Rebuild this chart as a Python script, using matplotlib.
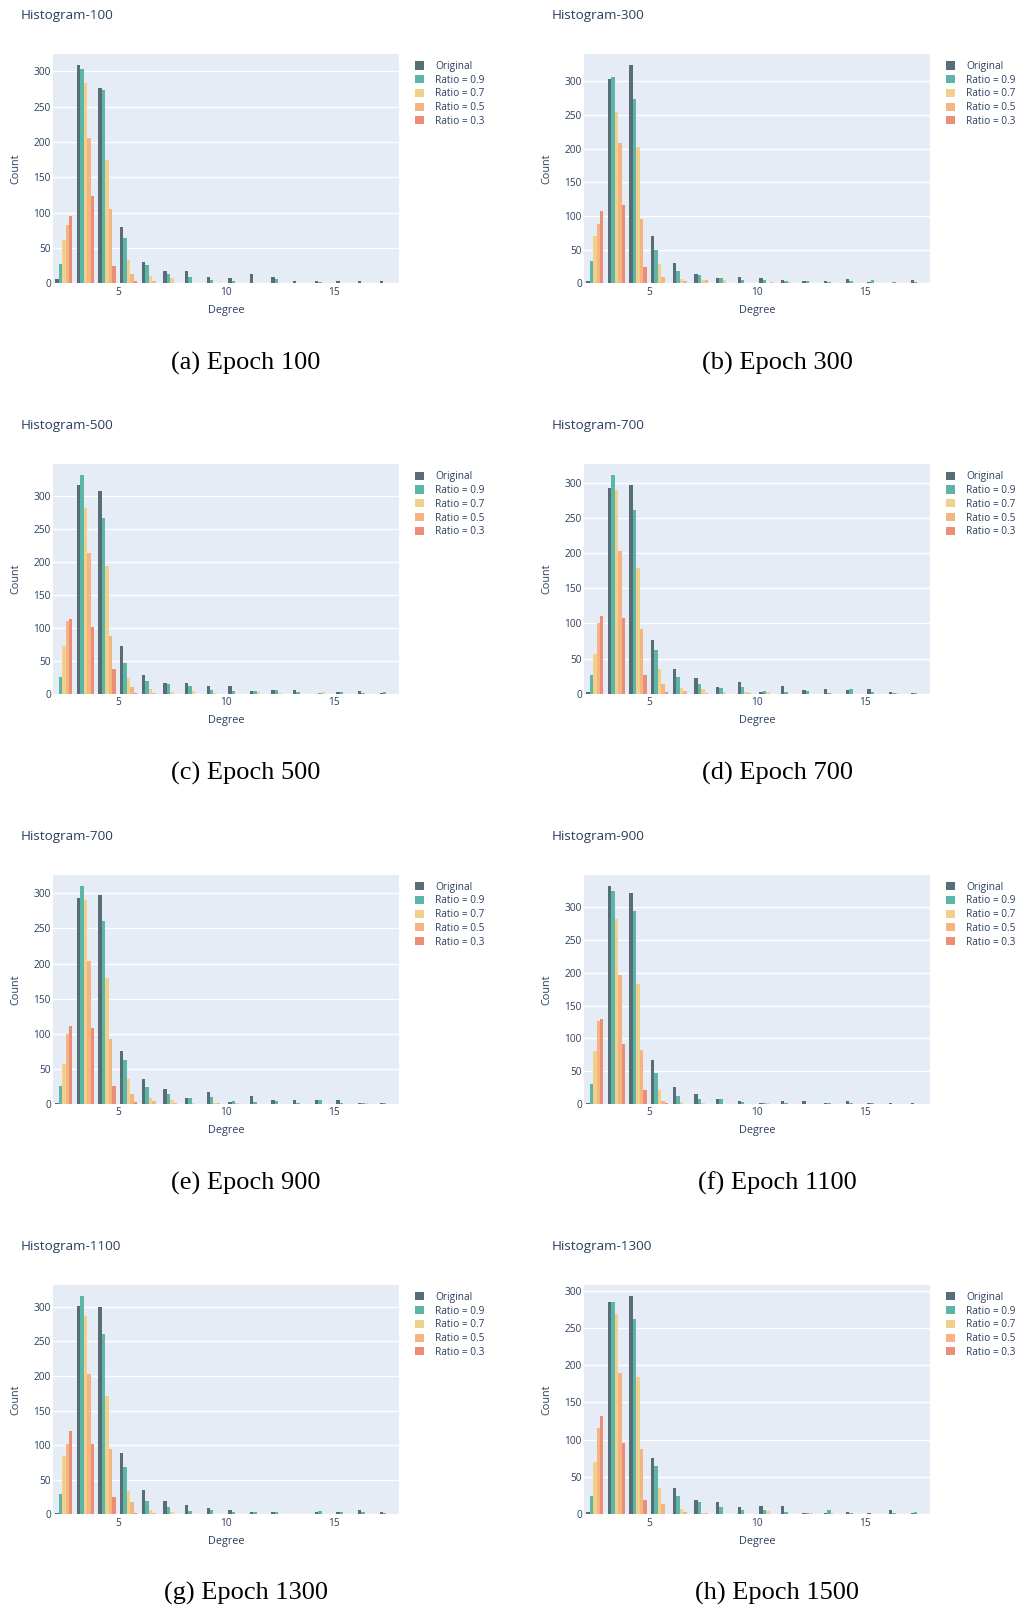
import numpy as np
import matplotlib
matplotlib.use('Agg')
import matplotlib.pyplot as plt
from matplotlib.patches import Patch

# ---------------- data ----------------
degrees = list(range(2, 18))  # left edges of unit-width degree bins
series_names = ['Original', 'Ratio = 0.9', 'Ratio = 0.7', 'Ratio = 0.5', 'Ratio = 0.3']
series_colors = ['#596d77', '#5bb6a8', '#efd18c', '#f5b482', '#ec8d75']

hist_100_orig = [6, 309, 277, 80, 30, 17, 17, 9, 8, 13, 9, 3, 3, 3, 3, 3]
hist_100_r09 = [27, 303, 273, 64, 26, 13, 9, 5, 3, 1, 6, 1, 2, 1, 0, 0]
hist_100_r07 = [61, 283, 175, 33, 10, 8, 0, 1, 1, 0, 0, 0, 0, 0, 0, 0]
hist_100_r05 = [82, 205, 105, 13, 3, 1, 0, 0, 0, 0, 0, 0, 0, 0, 0, 0]
hist_100_r03 = [96, 123, 24, 3, 0, 0, 0, 0, 0, 0, 0, 0, 0, 0, 0, 0]

hist_300_orig = [4, 303, 324, 70, 30, 14, 8, 10, 8, 5, 4, 3, 6, 2, 1, 5]
hist_300_r09 = [33, 306, 273, 50, 19, 12, 8, 5, 5, 3, 3, 2, 3, 5, 2, 2]
hist_300_r07 = [70, 254, 202, 29, 6, 5, 5, 1, 0, 2, 1, 1, 0, 1, 0, 0]
hist_300_r05 = [88, 208, 96, 9, 4, 5, 0, 0, 2, 1, 0, 1, 0, 0, 0, 0]
hist_300_r03 = [108, 116, 24, 0, 0, 0, 0, 0, 0, 0, 0, 0, 0, 0, 0, 0]

hist_500_orig = [0, 317, 308, 72, 28, 16, 17, 11, 11, 4, 5, 5, 0, 3, 4, 1]
hist_500_r09 = [26, 332, 267, 47, 19, 14, 11, 5, 4, 4, 5, 3, 1, 2, 1, 3]
hist_500_r07 = [72, 282, 194, 24, 7, 3, 4, 1, 0, 2, 1, 0, 2, 0, 0, 0]
hist_500_r05 = [110, 214, 88, 10, 1, 0, 0, 0, 0, 0, 0, 0, 0, 0, 0, 0]
hist_500_r03 = [114, 101, 37, 1, 0, 0, 0, 0, 0, 0, 0, 0, 0, 0, 0, 0]

hist_700_orig = [2, 293, 297, 76, 35, 22, 9, 17, 3, 11, 5, 6, 5, 6, 2, 1]
hist_700_r09 = [26, 311, 261, 62, 24, 14, 8, 10, 4, 3, 4, 1, 6, 2, 1, 1]
hist_700_r07 = [57, 290, 179, 35, 8, 6, 2, 2, 2, 0, 0, 0, 0, 0, 1, 0]
hist_700_r05 = [100, 203, 92, 14, 4, 1, 0, 1, 0, 0, 0, 0, 0, 0, 0, 0]
hist_700_r03 = [111, 108, 26, 3, 0, 0, 0, 0, 0, 0, 0, 0, 0, 0, 0, 0]

hist_900_orig = [1, 333, 322, 67, 26, 15, 8, 4, 2, 4, 5, 2, 4, 2, 1, 1]
hist_900_r09 = [31, 325, 294, 47, 12, 7, 7, 3, 2, 2, 0, 2, 1, 1, 0, 0]
hist_900_r07 = [81, 282, 183, 22, 3, 1, 0, 0, 1, 0, 0, 0, 0, 0, 0, 0]
hist_900_r05 = [126, 197, 82, 5, 0, 0, 0, 0, 0, 0, 0, 0, 0, 0, 0, 0]
hist_900_r03 = [130, 91, 22, 2, 0, 0, 0, 0, 0, 0, 0, 0, 0, 0, 0, 0]

hist_1100_orig = [2, 301, 300, 89, 35, 19, 14, 9, 6, 4, 3, 0, 3, 3, 6, 3]
hist_1100_r09 = [29, 316, 261, 69, 19, 11, 5, 6, 3, 3, 4, 1, 5, 3, 3, 2]
hist_1100_r07 = [84, 287, 171, 33, 6, 3, 1, 0, 1, 0, 0, 0, 0, 0, 0, 0]
hist_1100_r05 = [102, 203, 94, 18, 2, 1, 0, 0, 0, 0, 0, 0, 0, 0, 0, 0]
hist_1100_r03 = [121, 102, 25, 2, 0, 0, 0, 0, 0, 0, 0, 0, 0, 0, 0, 0]

hist_1300_orig = [3, 285, 293, 76, 35, 19, 17, 10, 11, 11, 2, 2, 3, 2, 6, 2]
hist_1300_r09 = [25, 285, 262, 65, 25, 17, 10, 6, 6, 3, 2, 6, 2, 1, 2, 3]
hist_1300_r07 = [70, 268, 184, 35, 7, 2, 1, 1, 4, 0, 2, 2, 0, 0, 0, 1]
hist_1300_r05 = [116, 189, 87, 14, 3, 2, 1, 0, 0, 0, 0, 0, 0, 0, 0, 0]
hist_1300_r03 = [132, 95, 19, 1, 0, 0, 0, 0, 0, 0, 0, 0, 0, 0, 0, 0]

hist_100 = [hist_100_orig, hist_100_r09, hist_100_r07, hist_100_r05, hist_100_r03]
hist_300 = [hist_300_orig, hist_300_r09, hist_300_r07, hist_300_r05, hist_300_r03]
hist_500 = [hist_500_orig, hist_500_r09, hist_500_r07, hist_500_r05, hist_500_r03]
hist_700 = [hist_700_orig, hist_700_r09, hist_700_r07, hist_700_r05, hist_700_r03]
hist_900 = [hist_900_orig, hist_900_r09, hist_900_r07, hist_900_r05, hist_900_r03]
hist_1100 = [hist_1100_orig, hist_1100_r09, hist_1100_r07, hist_1100_r05, hist_1100_r03]
hist_1300 = [hist_1300_orig, hist_1300_r09, hist_1300_r07, hist_1300_r05, hist_1300_r03]

panel_titles = ['Histogram-100', 'Histogram-300', 'Histogram-500', 'Histogram-700',
                'Histogram-700', 'Histogram-900', 'Histogram-1100', 'Histogram-1300']
panel_data = [hist_100, hist_300, hist_500, hist_700, hist_700, hist_900, hist_1100, hist_1300]
panel_captions = ['(a) Epoch 100', '(b) Epoch 300', '(c) Epoch 500', '(d) Epoch 700',
                  '(e) Epoch 900', '(f) Epoch 1100', '(g) Epoch 1300', '(h) Epoch 1500']

# ---------------- layout ----------------
W, H = 1018, 1609
fig = plt.figure(figsize=(W / 100, H / 100), dpi=100)
TXT = '#2a3f5f'
BG = '#e5ecf6'
FONT = ['Open Sans', 'DejaVu Sans']
ROW = 410.3


def rect(x0, y0, w, h):
    return [x0 / W, 1 - (y0 + h) / H, w / W, h / H]


edges = np.array(degrees + [degrees[-1] + 1], dtype=float)
centers = edges[:-1] + 0.5
group_w = 0.8
bar_w = group_w / len(series_names)

for i, (title, data, cap) in enumerate(zip(panel_titles, panel_data, panel_captions)):
    r, c = divmod(i, 2)
    x0 = 53 if c == 0 else 584
    top = 54 + ROW * r
    pw, ph = 346, 229.4
    ax = fig.add_axes(rect(x0, top, pw, ph))
    ax.set_facecolor(BG)
    for k, (vals, name, col) in enumerate(zip(data, series_names, series_colors)):
        off = -group_w / 2 + bar_w * (k + 0.5)
        ax.bar(centers + off, vals, width=bar_w, color=col, label=name,
               linewidth=0, zorder=3)
    ymax = max(max(v) for v in data) * 1.05
    ax.set_xlim(edges[0], edges[-1])
    ax.set_ylim(0, ymax)
    ax.set_xticks([5, 10, 15])
    ax.set_yticks(np.arange(0, ymax, 50))
    ax.grid(axis='y', color='white', linewidth=1.0, zorder=0)
    ax.set_axisbelow(True)
    for s in ax.spines.values():
        s.set_visible(False)
    ax.tick_params(axis='both', length=0, labelsize=7.3, colors=TXT)
    ax.tick_params(axis='x', pad=2.5)
    ax.tick_params(axis='y', pad=1.5)
    for lab in ax.get_xticklabels() + ax.get_yticklabels():
        lab.set_family(FONT)
    ax.set_xlabel('Degree', fontsize=7.8, color=TXT, family=FONT, labelpad=5)
    ax.set_ylabel('Count', fontsize=7.8, color=TXT, family=FONT)
    ax.yaxis.set_label_coords(-32 / pw, 0.5)

    tx = 21 if c == 0 else 552
    fig.text(tx / W, 1 - (15.5 + ROW * r) / H, title, ha='left', va='center',
             fontsize=9.7, color=TXT, family=FONT)

    lx = x0 + 362
    handles = [Patch(facecolor=col, edgecolor='none') for col in series_colors]
    leg = ax.legend(handles, series_names, loc='upper left',
                    bbox_to_anchor=(lx / W, 1 - (top + 7) / H),
                    bbox_transform=fig.transFigure, frameon=False,
                    fontsize=7.3, handlelength=0.85, handleheight=0.85,
                    handletextpad=1.15, labelspacing=0.27, borderpad=0,
                    borderaxespad=0)
    for t in leg.get_texts():
        t.set_color(TXT)
        t.set_family(FONT)

    fig.text((x0 + 193) / W, 1 - (363 + ROW * r) / H, cap, ha='center', va='center',
             fontsize=19, color='black', family=['Liberation Serif', 'DejaVu Serif'])

fig.savefig('out.png', dpi=100, facecolor='white')
